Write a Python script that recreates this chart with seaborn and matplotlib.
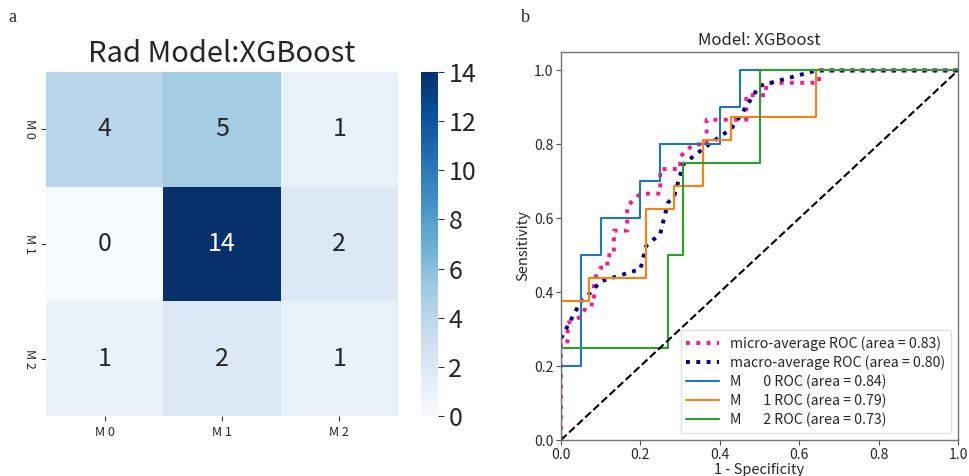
import numpy as np
import pandas as pd
import matplotlib
matplotlib.use("Agg")
import matplotlib.pyplot as plt
import seaborn as sns

# ---------------- data ----------------
class_labels = ["M 0", "M 1", "M 2"]
cm_row0 = [4, 5, 1]
cm_row1 = [0, 14, 2]
cm_row2 = [1, 2, 1]

cb_ticks = [0, 2, 4, 6, 8, 10, 12, 14]

m0_fpr = [0.0, 0.0, 0.05, 0.05, 0.10, 0.10, 0.20, 0.20, 0.25, 0.25, 0.40, 0.40, 0.45, 0.45, 1.0]
m0_tpr = [0.0, 0.20, 0.20, 0.50, 0.50, 0.60, 0.60, 0.70, 0.70, 0.80, 0.80, 0.90, 0.90, 1.0, 1.0]

m1_fpr = [0.0, 0.0, 0.0714, 0.0714, 0.2143, 0.2143, 0.2857, 0.2857, 0.3571, 0.3571,
          0.4286, 0.4286, 0.6429, 0.6429, 1.0]
m1_tpr = [0.0, 0.375, 0.375, 0.4375, 0.4375, 0.625, 0.625, 0.6875, 0.6875, 0.8125,
          0.8125, 0.875, 0.875, 1.0, 1.0]

m2_fpr = [0.0, 0.0, 0.2692, 0.2692, 0.3077, 0.3077, 0.50, 0.50, 1.0]
m2_tpr = [0.0, 0.25, 0.25, 0.50, 0.50, 0.75, 0.75, 1.0, 1.0]

micro_fpr = [0.0, 0.0, 0.0167, 0.0167, 0.05, 0.0667, 0.0833, 0.0833, 0.10, 0.1167, 0.1167,
             0.1333, 0.1333, 0.1667, 0.1667, 0.20, 0.25, 0.25, 0.30, 0.30, 0.3333, 0.3667,
             0.3667, 0.4667, 0.4667, 0.5167, 0.5167, 0.55, 0.65, 0.65, 1.0]
micro_tpr = [0.0, 0.2667, 0.2667, 0.3167, 0.3333, 0.3667, 0.3667, 0.4333, 0.4667, 0.4667, 0.50,
             0.50, 0.5667, 0.5667, 0.6333, 0.6667, 0.6667, 0.7333, 0.7333, 0.7667, 0.80, 0.80,
             0.8667, 0.8667, 0.9333, 0.9333, 0.9667, 0.9667, 0.9667, 1.0, 1.0]

macro_fpr = [0.0, 0.05, 0.0714, 0.10, 0.20, 0.2143, 0.25, 0.2692, 0.2857, 0.3077, 0.3571,
             0.40, 0.4286, 0.45, 0.50, 0.6429, 1.0]
macro_tpr = [0.275, 0.375, 0.3958, 0.4292, 0.4625, 0.525, 0.5583, 0.6417, 0.6625, 0.7458,
             0.7875, 0.8208, 0.8417, 0.875, 0.9583, 1.0, 1.0]

auc_micro = 0.83
auc_macro = 0.80
auc_classes = [0.84, 0.79, 0.73]

roc_ticks = [0.0, 0.2, 0.4, 0.6, 0.8, 1.0]

# ---------------- style ----------------
sns.set_theme(style="white")
plt.rcParams["font.family"] = ["Noto Sans CJK SC", "DejaVu Sans"]
plt.rcParams["axes.unicode_minus"] = False

fig = plt.figure(figsize=(9.69, 4.76), dpi=100)
W, H = 969.0, 476.0

def box(l, t, r, b):
    return [l / W, 1 - b / H, (r - l) / W, (b - t) / H]

ax_hm = fig.add_axes(box(46, 72, 398, 416))
ax_cb = fig.add_axes(box(421, 72, 438, 416))
ax_roc = fig.add_axes(box(561, 52, 958, 440))

# ---------------- heatmap ----------------
cm = pd.DataFrame([cm_row0, cm_row1, cm_row2], index=class_labels, columns=class_labels)
sns.heatmap(cm, ax=ax_hm, cbar_ax=ax_cb, cmap="Blues", annot=True, fmt="d",
            vmin=0, vmax=14, annot_kws={"fontsize": 18})
ax_hm.set_title("Rad Model:XGBoost", fontsize=21, pad=7)
ax_hm.tick_params(axis="both", which="both", length=3.5, width=0.8, color="0.2",
                  labelsize=9, bottom=True, left=True)
ax_hm.set_xticklabels(class_labels, rotation=0, fontsize=9)
ax_hm.set_yticklabels(class_labels, rotation=270, fontsize=9, va="center")
ax_hm.set_xlabel("")
ax_hm.set_ylabel("")
ax_cb.set_yticks(cb_ticks)
ax_cb.set_yticklabels([str(t) for t in cb_ticks])
ax_cb.tick_params(labelsize=18, length=4, width=0.8, color="0.2", right=True)

# ---------------- ROC ----------------
sns.lineplot(x=micro_fpr, y=micro_tpr, ax=ax_roc, estimator=None, sort=False,
             color="deeppink", linestyle=":", linewidth=2.8,
             label=f"micro-average ROC (area = {auc_micro:.2f})")
sns.lineplot(x=macro_fpr, y=macro_tpr, ax=ax_roc, estimator=None, sort=False,
             color="navy", linestyle=":", linewidth=2.8,
             label=f"macro-average ROC (area = {auc_macro:.2f})")
class_curves = [(m0_fpr, m0_tpr), (m1_fpr, m1_tpr), (m2_fpr, m2_tpr)]
colors = ["tab:blue", "tab:orange", "tab:green"]
for i, ((fx, fy), c) in enumerate(zip(class_curves, colors)):
    sns.lineplot(x=fx, y=fy, ax=ax_roc, estimator=None, sort=False, color=c,
                 linewidth=1.5, label=f"M       {i} ROC (area = {auc_classes[i]:.2f})")
sns.lineplot(x=[0, 1], y=[0, 1], ax=ax_roc, estimator=None, sort=False,
             color="black", linestyle="--", linewidth=1.5)

ax_roc.set_xlim(0.0, 1.0)
ax_roc.set_ylim(0.0, 1.05)
ax_roc.set_xticks(roc_ticks)
ax_roc.set_yticks(roc_ticks)
ax_roc.tick_params(axis="both", which="both", length=3.5, width=0.8, color="0.3",
                   labelsize=10, bottom=True, left=True, pad=2)
ax_roc.set_xlabel("1 - Specificity", fontsize=10.5, labelpad=1)
ax_roc.set_ylabel("Sensitivity", fontsize=10.5, labelpad=3)
ax_roc.set_title("Model: XGBoost", fontsize=12, pad=5)
for sp in ax_roc.spines.values():
    sp.set_color("0.45")
    sp.set_linewidth(1.0)
leg = ax_roc.legend(loc="lower right", fontsize=10.2, frameon=True, handlelength=2.3,
                    labelspacing=0.32, borderpad=0.4)
leg.get_frame().set_edgecolor("0.85")

# panel letters
fig.text(12 / W, 1 - 18 / H, "a", fontsize=13, family="Liberation Serif",
         ha="center", va="center")
fig.text(525 / W, 1 - 18 / H, "b", fontsize=13, family="Liberation Serif",
         ha="center", va="center")

fig.savefig("out.png", dpi=100)
